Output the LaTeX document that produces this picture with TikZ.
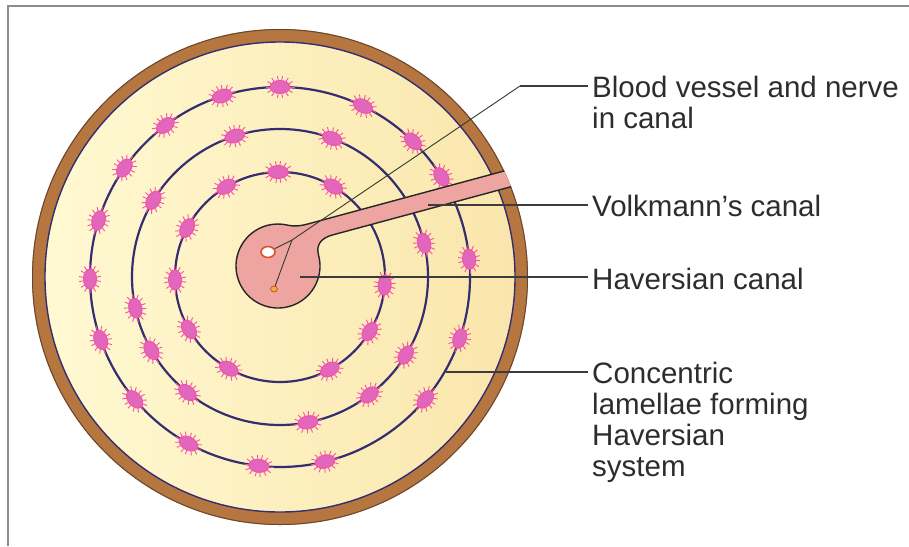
\documentclass[tikz,border=0pt]{standalone}
\usepackage{fontspec}
\setmainfont{Liberation Sans}
\usetikzlibrary{calc,shapes.geometric}

\definecolor{ringbrown}{RGB}{182,118,64}
\definecolor{ringedge}{RGB}{105,70,48}
\definecolor{lamella}{RGB}{52,46,112}
\definecolor{creamL}{RGB}{255,249,210}
\definecolor{creamR}{RGB}{250,230,172}
\definecolor{cellfill}{RGB}{226,102,188}
\definecolor{cellrim}{RGB}{242,84,168}
\definecolor{canal}{RGB}{238,164,160}
\definecolor{vesselrim}{RGB}{222,80,40}
\definecolor{nervefill}{RGB}{245,170,60}
\definecolor{labeltext}{RGB}{45,45,45}
\definecolor{leader}{RGB}{60,60,60}
\definecolor{thinleader}{RGB}{50,60,45}
\definecolor{framegray}{RGB}{140,140,140}

\tikzset{
  label text/.style={font=\fontsize{29.5}{31}\selectfont, text=labeltext,
    inner sep=0pt, anchor=north west, align=left},
  leader line/.style={draw=leader, line width=1.6pt},
  fine leader/.style={draw=thinleader, line width=0.9pt},
  lamella ring/.style={draw=lamella, line width=2.2pt},
  osteocyte/.pic={
    \foreach \t in {0,30,55,80,100,125,150,180,210,235,260,280,305,330}
      \draw[cellrim, line width=0.9pt]
        ({10*cos(\t)},{6.5*sin(\t)}) -- ({14.5*cos(\t)},{11*sin(\t)});
    \fill[cellfill, draw=cellrim, line width=1pt]
      (0,0) ellipse [x radius=10, y radius=6.5];
  },
  vessel/.style={ellipse, draw=vesselrim, fill=white, line width=1.6pt,
    minimum width=14pt, minimum height=11pt, inner sep=0pt},
  nerve/.style={ellipse, draw=vesselrim!80!black, fill=nervefill, line width=0.6pt,
    minimum width=7pt, minimum height=6pt, inner sep=0pt}
}

\begin{document}
\begin{tikzpicture}[x=1pt, y=-1pt]
  \useasboundingbox (0,0) rectangle (909,546);
  \fill[white] (0,0) rectangle (909,546);
  % frame
  \draw[framegray, line width=2pt] (8,546) -- (8,6) -- (909,6);

  \coordinate (C) at (280,277);

  % bone wall and matrix
  \fill[ringbrown] (C) circle [radius=248];
  \draw[ringedge, line width=1pt] (C) circle [radius=247.5];
  \shade[left color=creamL, right color=creamR] (C) circle [radius=235];
  \draw[lamella, line width=1.4pt] (C) circle [radius=235];

  % concentric lamellae
  \draw[lamella ring] (C) circle [radius=105];
  \draw[lamella ring] (C) circle [radius=148];
  \draw[lamella ring] (C) circle [radius=190];

  % osteocytes along the lamellae
  \foreach \a in {91,59.5,120.8,152.2,181.6,209.9,240.8,298.3,328.7,355.6}
    \pic[rotate=\a+90] at ($(C)+(-\a:105)$) {osteocyte};
  \foreach \a in {107.8,69.4,13.2,328.2,307.2,280.9,231.3,209.7,192.2,148.8}
    \pic[rotate=\a+90] at ($(C)+(-\a:148)$) {osteocyte};
  \foreach \a in {107.7,90,64.1,45.6,31.8,5.4,341.1,319.9,283.7,263.6,241.2,220.1,199.3,180.6,162.7,145,127.1}
    \pic[rotate=\a+90] at ($(C)+(-\a:190)$) {osteocyte};

  % Haversian canal with Volkmann's canal
  \begin{scope}
    \clip (C) circle [radius=248];
    \filldraw[fill=canal, draw=black!85, line width=1.4pt]
      (544.2,177.8) -- (332.7,234.9)
      .. controls (318,238.9) and (316.5,247.4) .. (318.57,255.13)
      arc [start angle=-15, end angle=284, radius=42]
      .. controls (293.98,226.7) and (301.54,225.67) .. (306.37,224.37)
      -- (539.8,161.3) -- cycle;
  \end{scope}

  \node[vessel] (vessel) at (268,252) {};
  \node[nerve] (nerve) at (274,289) {};

  % labels
  \node[label text] (tBV) at (592,75.5) {Blood vessel and nerve\\in canal};
  \node[label text] (tVK) at (592,195) {Volkmann's canal};
  \node[label text] (tHC) at (592,267.5) {Haversian canal};
  \node[label text] (tCL) at (592,361.5) {Concentric\\lamellae forming\\Haversian\\system};

  % leader lines
  \coordinate (bvcorner) at (520,86);
  \coordinate (bvfork) at (292,240);
  \coordinate (vkpt) at (428,205);
  \coordinate (hcpt) at (300,277);
  \coordinate (clpt) at (446,372);

  \draw[leader line] ($(tBV.west |- bvcorner)+(-4,0)$) -- (bvcorner);
  \draw[fine leader] (bvcorner) -- (bvfork) -- (vessel);
  \draw[fine leader] (bvfork) -- (nerve);
  \draw[leader line] (vkpt) -- ($(vkpt -| tVK.west)+(-4,0)$);
  \draw[leader line] (hcpt) -- ($(hcpt -| tHC.west)+(-4,0)$);
  \draw[leader line] (clpt) -- ($(clpt -| tCL.west)+(-4,0)$);
\end{tikzpicture}
\end{document}
